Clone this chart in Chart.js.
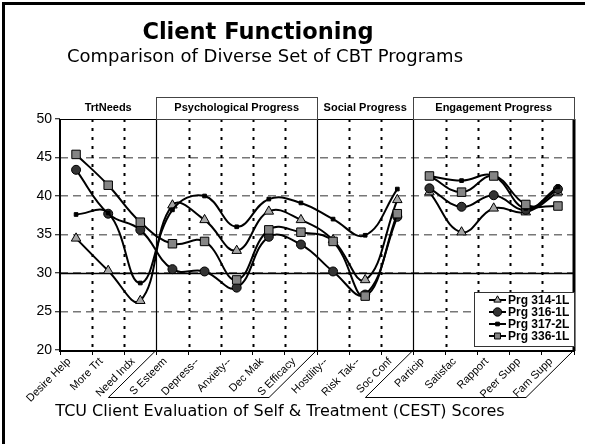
<!DOCTYPE html>
<html>
<head>
<meta charset="utf-8">
<script src="https://cdn.jsdelivr.net/npm/chart.js@4.4.1/dist/chart.umd.min.js"></script>
<style>
  html, body { margin: 0; padding: 0; background: #fff; }
  canvas { display: block; }
</style>
</head>
<body>
<canvas id="chart" width="591" height="444"></canvas>
<script>
// CEST scale names along the x axis
const categories = ['Desire Help', 'More Trt', 'Need Indx', 'S Esteem', 'Depress--', 'Anxiety--',
  'Dec Mak', 'S Efficacy', 'Hostility--', 'Risk Tak--', 'Soc Conf', 'Particip', 'Satisfac',
  'Rapport', 'Peer Supp', 'Fam Supp'];

// Scale domains shown above the plot (index ranges into categories)
const domainNames = ['TrtNeeds', 'Psychological Progress', 'Social Progress', 'Engagement Progress'];
const domainStart = [0, 3, 8, 11];
const domainEnd = [2, 7, 10, 15];
const domainBoxed = [false, true, false, true];

// Mean scores per program
const programNames = ['Prg 314-1L', 'Prg 316-1L', 'Prg 317-2L', 'Prg 336-1L'];
const prg314 = [34.5, 30.3, 26.4, 38.8, 36.9, 32.9, 38.0, 36.9, 34.3, 29.1, 39.5, 40.5, 35.3, 38.4, 37.9, 40.5];
const prg316 = [43.4, 37.7, 35.6, 30.5, 30.2, 28.1, 34.7, 33.7, 30.2, 27.2, 37.3, 41.0, 38.6, 40.1, 38.2, 40.9];
const prg317 = [37.6, 37.8, 28.7, 38.2, 40.0, 36.0, 39.6, 39.1, 37.0, 34.9, 40.9, 42.6, 42.0, 42.6, 38.4, 41.2];
const prg336 = [45.4, 41.4, 36.6, 33.8, 34.1, 29.1, 35.6, 35.3, 34.1, 27.0, 37.7, 42.6, 40.5, 42.6, 38.9, 38.7];

// Y axis range and tick step
const yMin = 20, yMax = 50, yStep = 5;
const referenceLine = 30;

// Last index of the client-scale block; engagement scales are drawn as a separate curve
const splitIndex = 10;

const seriesValues = [prg314, prg316, prg317, prg336];
const markerStyles = [
  { pointStyle: 'triangle', radius: 5.5, fill: '#a6a6a6' },
  { pointStyle: 'circle', radius: 4.5, fill: '#333333' },
  { pointStyle: 'rect', radius: 2.6, fill: '#000000' },
  { pointStyle: 'rect', radius: 6, fill: '#858585' }
];
const drawOrder = [3, 2, 1, 0];

const datasets = [];
seriesValues.forEach((vals, s) => {
  const m = markerStyles[s];
  const parts = [
    vals.map((v, i) => (i <= splitIndex ? v : null)),
    vals.map((v, i) => (i > splitIndex ? v : null))
  ];
  parts.forEach((data) => {
    datasets.push({
      label: programNames[s],
      data: data,
      borderColor: '#000',
      borderWidth: 2,
      tension: 0.42,
      spanGaps: false,
      pointStyle: m.pointStyle,
      pointRadius: m.radius,
      pointBackgroundColor: m.fill,
      pointBorderColor: '#000',
      pointBorderWidth: 1,
      order: drawOrder[s],
      fill: false
    });
  });
});

const FONT_ARIAL = '"Liberation Sans", Arial, sans-serif';
const FONT_TITLE = '"DejaVu Sans", Verdana, sans-serif';

function boundaryX(xs, k) {
  // pixel between category k-1 and k
  if (k <= 0) return xs.left;
  if (k >= categories.length) return xs.right;
  return (xs.getPixelForValue(k - 1) + xs.getPixelForValue(k)) / 2;
}

const decorations = {
  id: 'decorations',
  beforeDatasetsDraw(chart) {
    const { ctx, chartArea: a, scales: { x: xs, y: ys } } = chart;
    ctx.save();
    // vertical separators between scales
    for (let k = 1; k < categories.length; k++) {
      const x = Math.round(boundaryX(xs, k)) + 0.5;
      const solid = domainStart.includes(k);
      ctx.beginPath();
      ctx.setLineDash(solid ? [] : [3, 6]);
      ctx.lineWidth = solid ? 1.2 : 2;
      ctx.strokeStyle = '#000';
      ctx.moveTo(x, a.top);
      ctx.lineTo(x, a.bottom);
      ctx.stroke();
    }
    ctx.setLineDash([]);
    // reference line
    const yr = Math.round(ys.getPixelForValue(referenceLine)) + 0.5;
    ctx.beginPath();
    ctx.lineWidth = 1.5;
    ctx.strokeStyle = '#000';
    ctx.moveTo(a.left, yr);
    ctx.lineTo(a.right, yr);
    ctx.stroke();
    // plot frame
    ctx.lineWidth = 1;
    ctx.beginPath();
    ctx.moveTo(a.left, a.top + 0.5);
    ctx.lineTo(a.right, a.top + 0.5);
    ctx.stroke();
    ctx.lineWidth = 2;
    ctx.beginPath();
    ctx.moveTo(a.left, a.top);
    ctx.lineTo(a.left, a.bottom + 1);
    ctx.lineTo(a.right, a.bottom + 1);
    ctx.stroke();
    ctx.lineWidth = 3;
    ctx.beginPath();
    ctx.moveTo(a.right, a.top);
    ctx.lineTo(a.right, a.bottom + 1);
    ctx.stroke();
    ctx.restore();
  },
  afterDraw(chart) {
    const { ctx, chartArea: a, scales: { x: xs } } = chart;
    ctx.save();

    // domain headers
    const boxTop = a.top - 22;
    for (let g = 0; g < domainNames.length; g++) {
      const x0 = boundaryX(xs, domainStart[g]);
      const x1 = boundaryX(xs, domainEnd[g] + 1);
      if (domainBoxed[g]) {
        ctx.strokeStyle = '#444';
        ctx.lineWidth = 1;
        ctx.strokeRect(Math.round(x0) + 0.5, boxTop + 0.5, Math.round(x1 - x0), a.top - boxTop);
      }
      ctx.fillStyle = '#000';
      ctx.font = 'bold 11px ' + FONT_ARIAL;
      ctx.textAlign = 'center';
      ctx.textBaseline = 'middle';
      ctx.fillText(domainNames[g], (x0 + x1) / 2, boxTop + 11);
    }

    // slanted frames under the boxed domains' axis labels
    const slantDrop = 47, slantShift = 48;
    ctx.strokeStyle = '#000';
    ctx.lineWidth = 1;
    for (let g = 0; g < domainNames.length; g++) {
      if (!domainBoxed[g]) continue;
      const x0 = boundaryX(xs, domainStart[g]);
      const x1 = boundaryX(xs, domainEnd[g] + 1);
      const yb = a.bottom + slantDrop;
      ctx.beginPath();
      ctx.moveTo(x0, a.bottom);
      ctx.lineTo(x0 - slantShift, yb + 0.5);
      ctx.lineTo(x1 - slantShift, yb + 0.5);
      ctx.lineTo(x1, a.bottom);
      ctx.stroke();
    }

    // legend
    const lgLeft = 474, lgRight = a.right, lgTop = 292, rowH = 12;
    ctx.fillStyle = '#fff';
    ctx.fillRect(lgLeft, lgTop, lgRight - lgLeft, rowH * programNames.length + 6);
    ctx.strokeStyle = '#333';
    ctx.lineWidth = 1;
    ctx.strokeRect(lgLeft + 0.5, lgTop + 0.5, lgRight - lgLeft, rowH * programNames.length + 6);
    programNames.forEach((name, s) => {
      const yc = lgTop + 8 + s * rowH;
      ctx.strokeStyle = '#000';
      ctx.lineWidth = 2;
      ctx.beginPath();
      ctx.moveTo(489, yc);
      ctx.lineTo(506, yc);
      ctx.stroke();
      const m = markerStyles[s];
      ctx.fillStyle = m.fill;
      ctx.strokeStyle = '#000';
      ctx.lineWidth = 1;
      Chart.helpers.drawPoint(ctx, {
        pointStyle: m.pointStyle, radius: Math.min(m.radius, 4.2), rotation: 0, borderWidth: 1
      }, 497.5, yc);
      ctx.fillStyle = '#000';
      ctx.font = 'bold 12px ' + FONT_ARIAL;
      ctx.textAlign = 'left';
      ctx.textBaseline = 'middle';
      ctx.fillText(name, 508, yc + 0.5);
    });

    // titles
    ctx.fillStyle = '#000';
    ctx.textAlign = 'center';
    ctx.textBaseline = 'middle';
    ctx.font = 'bold 22.5px ' + FONT_TITLE;
    ctx.fillText('Client Functioning', 258, 33);
    ctx.font = '18px ' + FONT_TITLE;
    ctx.fillText('Comparison of Diverse Set of CBT Programs', 265, 57);
    ctx.font = '16px ' + FONT_TITLE;
    ctx.fillText('TCU Client Evaluation of Self & Treatment (CEST) Scores', 280, 412);

    // outer frame
    ctx.strokeStyle = '#000';
    ctx.lineWidth = 3;
    ctx.beginPath();
    ctx.moveTo(3.5, 444);
    ctx.lineTo(3.5, 3.5);
    ctx.lineTo(585, 3.5);
    ctx.stroke();
    ctx.restore();
  }
};

new Chart(document.getElementById('chart'), {
  type: 'line',
  data: { labels: categories, datasets: datasets },
  options: {
    responsive: false,
    animation: false,
    devicePixelRatio: 1,
    layout: { padding: { top: 119, right: 17, left: 0, bottom: 0 } },
    plugins: { legend: { display: false }, tooltip: { enabled: false }, title: { display: false } },
    scales: {
      x: {
        type: 'category',
        offset: true,
        grid: { display: true, offset: true, drawOnChartArea: false, drawTicks: true, tickLength: 5, color: '#000', lineWidth: 1 },
        border: { display: false },
        ticks: {
          autoSkip: false, minRotation: 45, maxRotation: 45, padding: 0, labelOffset: -7,
          color: '#000', font: { family: FONT_ARIAL, size: 11 }
        },
        afterFit(scale) { scale.height = 94; }
      },
      y: {
        min: yMin, max: yMax,
        ticks: { stepSize: yStep, color: '#000', padding: 3, font: { family: FONT_ARIAL, size: 14 } },
        grid: {
          color: ctx => (ctx.tick && (ctx.tick.value === yMin || ctx.tick.value === yMax)) ? 'rgba(0,0,0,0)' : '#777',
          lineWidth: 1.5, tickLength: 5, tickColor: '#000', tickWidth: 1
        },
        border: { display: false, dash: [8, 5] },
        afterFit(scale) { scale.width = 60; }
      }
    }
  },
  plugins: [decorations]
});
</script>
</body>
</html>
